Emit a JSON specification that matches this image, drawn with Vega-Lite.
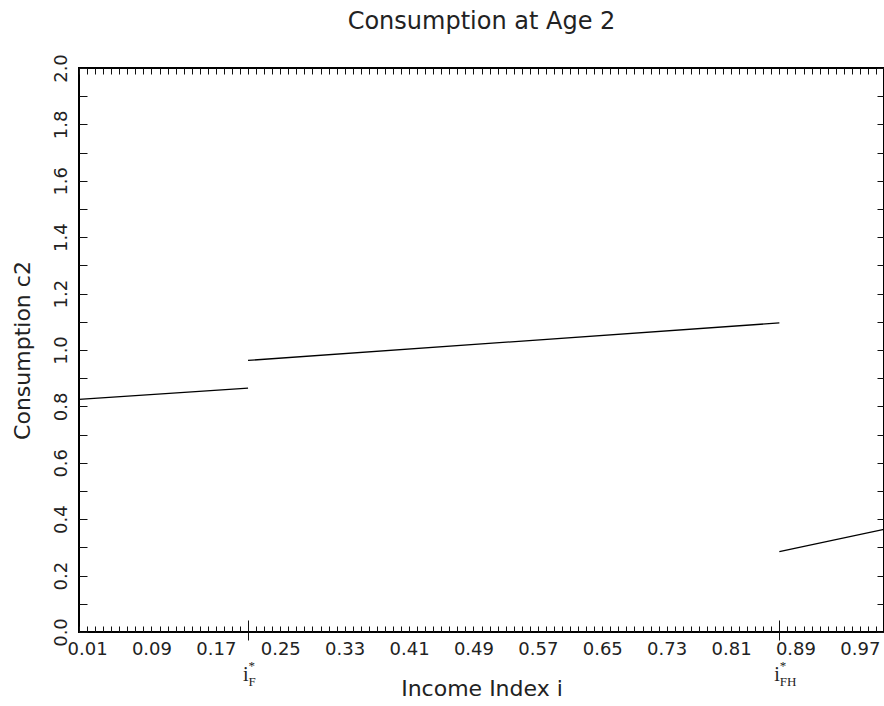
{
  "$schema": "https://vega.github.io/schema/vega-lite/v6.json",
  "width": 805,
  "height": 564,
  "autosize": {"type": "none"},
  "padding": {"left": 79, "top": 68, "right": 0, "bottom": 74},
  "background": "white",
  "title": {"text": "Consumption at Age 2", "fontSize": 24, "font": "DejaVu Sans", "fontWeight": "normal", "color": "#222", "anchor": "middle", "baseline": "alphabetic", "offset": 1},
  "data": {"values": [
    {"seg": "A", "income": 0.0, "c2": 0.825},
    {"seg": "A", "income": 0.21, "c2": 0.865},
    {"seg": "B", "income": 0.21, "c2": 0.963},
    {"seg": "B", "income": 0.87, "c2": 1.096},
    {"seg": "C", "income": 0.87, "c2": 0.285},
    {"seg": "C", "income": 1.0, "c2": 0.364}
  ]},
  "config": {
    "view": {"stroke": "#000", "strokeWidth": 2},
    "axis": {"domain": false, "grid": false, "tickColor": "#111", "tickWidth": 1, "labelColor": "#222", "titleColor": "#222", "labelFont": "DejaVu Sans", "titleFont": "DejaVu Sans", "titleFontWeight": "normal", "labelOverlap": false, "labelFlush": false, "labelBound": false}
  },
  "resolve": {"axis": {"x": "independent", "y": "independent"}},
  "layer": [
    {
      "mark": {"type": "line", "color": "#000", "strokeWidth": 1.3},
      "encoding": {
        "x": {"field": "income", "type": "quantitative", "scale": {"domain": [0, 1], "nice": false, "zero": false},
          "axis": {"orient": "bottom", "tickCount": 100, "tickSize": -6, "labelExpr": "(round(datum.value*100)-1) % 8 == 0 ? format(datum.value,'.2f') : ''", "labelFontSize": 18, "labelPadding": 14, "title": "Income Index i", "titleFontSize": 22, "titlePadding": 20}},
        "y": {"field": "c2", "type": "quantitative", "scale": {"domain": [0, 2], "nice": false, "zero": false},
          "axis": {"orient": "left", "tickCount": 20, "tickSize": -8, "labelExpr": "round(datum.value*10) % 2 == 0 ? format(datum.value,'.1f') : ''", "labelAngle": -90, "labelAlign": "center", "labelBaseline": "bottom", "labelFontSize": 18, "labelPadding": 17, "title": "Consumption c2", "titleFontSize": 22, "titlePadding": 18}},
        "detail": {"field": "seg"}
      }
    },
    {
      "mark": {"type": "line", "strokeOpacity": 0},
      "encoding": {
        "x": {"field": "income", "type": "quantitative", "axis": {"orient": "top", "tickCount": 100, "tickSize": -6, "labels": false, "title": null}},
        "y": {"field": "c2", "type": "quantitative", "axis": {"orient": "right", "tickCount": 20, "tickSize": -7, "labels": false, "title": null}},
        "detail": {"field": "seg"}
      }
    },
    {
      "mark": {"type": "line", "strokeOpacity": 0},
      "encoding": {
        "x": {"field": "income", "type": "quantitative", "axis": {"orient": "bottom", "values": [0.21, 0.87], "offset": -12, "tickSize": 20, "labelExpr": "'i'", "labelFont": "Liberation Serif", "labelFontSize": 20, "labelAlign": "right", "labelBaseline": "alphabetic", "labelPadding": 40, "title": null}},
        "y": {"field": "c2", "type": "quantitative", "axis": null},
        "detail": {"field": "seg"}
      }
    },
    {
      "mark": {"type": "line", "strokeOpacity": 0},
      "encoding": {
        "x": {"field": "income", "type": "quantitative", "axis": {"orient": "bottom", "values": [0.21, 0.87], "ticks": false, "labelExpr": "datum.value < 0.5 ? ['*','F'] : ['*','FH']", "labelFont": "Liberation Serif", "labelFontSize": 13, "labelAlign": "left", "labelDx": 1, "labelBaseline": "alphabetic", "labelLineHeight": 16, "labelPadding": 37, "title": null}},
        "y": {"field": "c2", "type": "quantitative", "axis": null},
        "detail": {"field": "seg"}
      }
    }
  ]
}
